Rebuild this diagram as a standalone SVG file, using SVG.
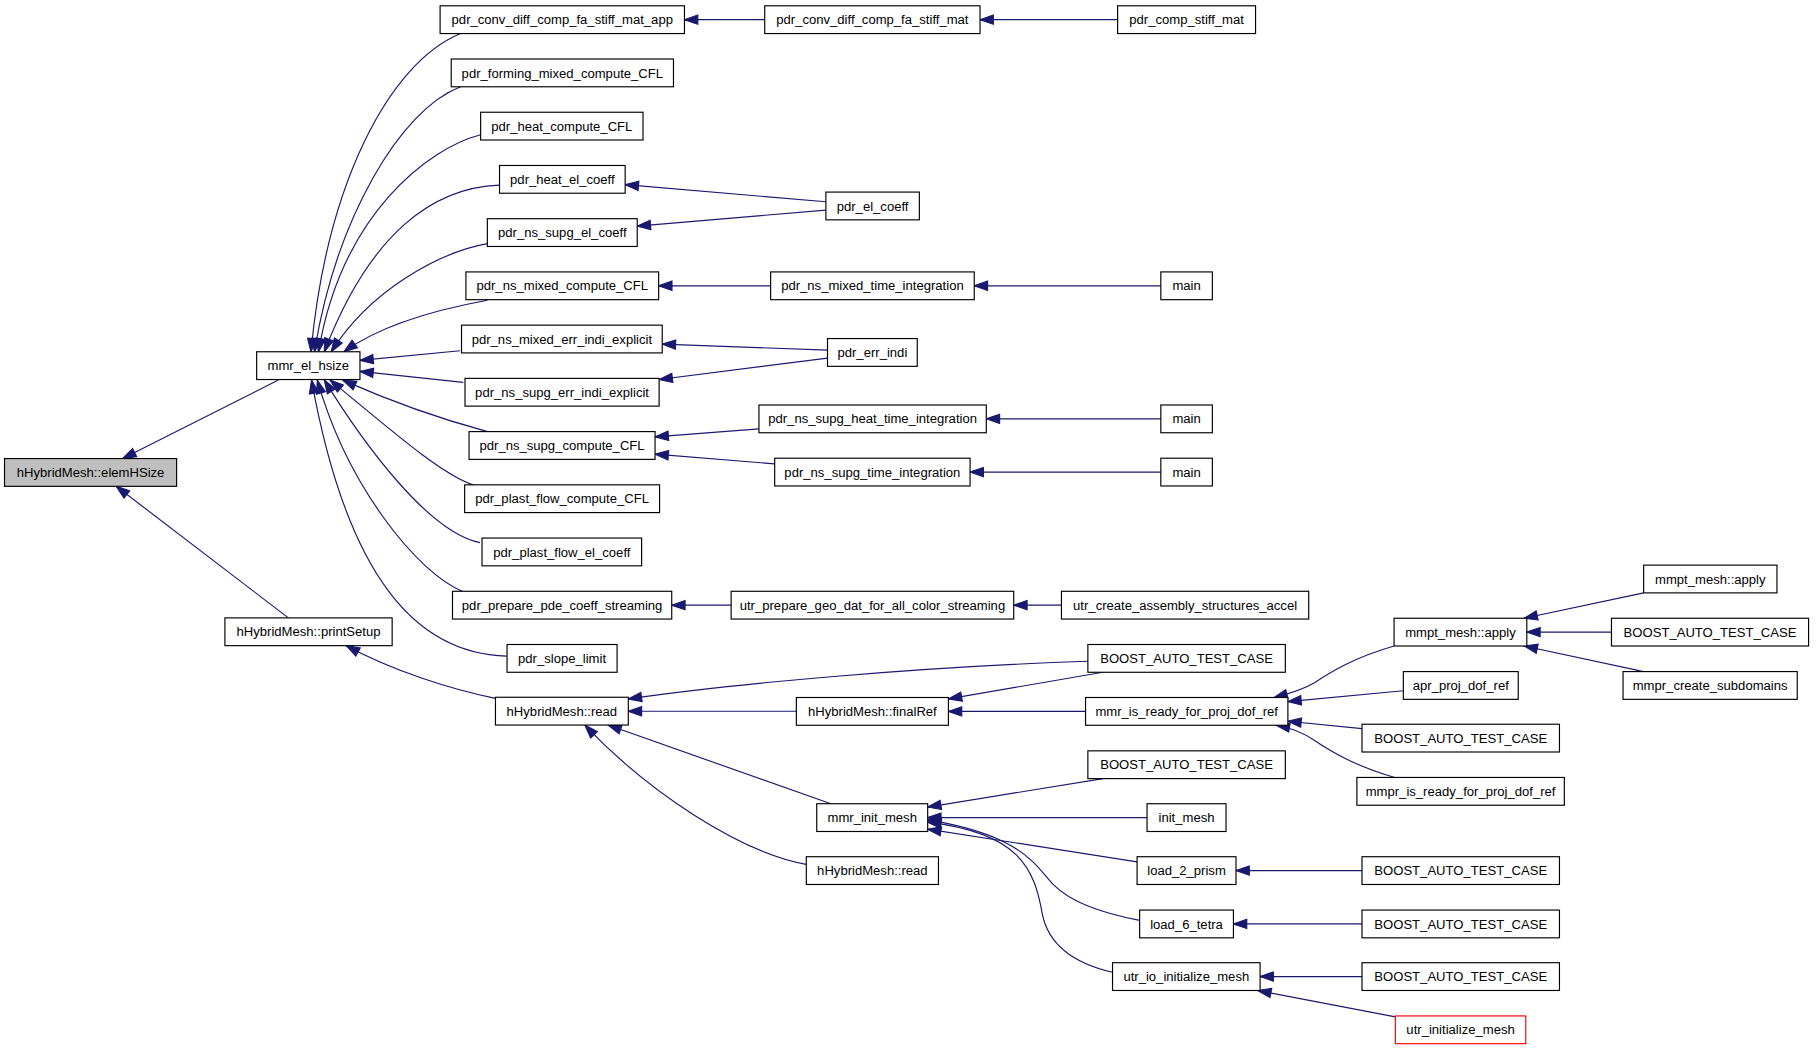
<svg xmlns="http://www.w3.org/2000/svg" width="1816" height="1053" viewBox="0 0 1816 1053">
<style>
.n rect{fill:#fff;stroke:#000;stroke-width:1}
.n text{font-family:"Liberation Sans",Arial,Helvetica,sans-serif;font-size:11.3px;text-anchor:middle;fill:#000}
#n0 rect{fill:#bfbfbf}
#n46 rect{stroke:#ff0000}
#edges path{fill:none;stroke:#191970;stroke-width:1;marker-end:url(#ah)}
</style>
<defs>
<marker id="ah" viewBox="0 0 11.5 8" markerWidth="11.5" markerHeight="8" refX="11.5" refY="4" orient="auto" markerUnits="userSpaceOnUse" overflow="visible"><path d="M0,0 L11.5,4 L0,8 z" fill="#191970" stroke="#191970" stroke-width="1"/></marker>
</defs>
<rect width="1816" height="1053" fill="#fff"/>
<g transform="scale(1.15816,1.1571)">
<g id="edges">
<path d="M240.3,328.5 L106,396.3"/>
<path d="M249,534 L100.4,420.3"/>
<path d="M397.7,29 C335,55 282,160 268.5,304"/>
<path d="M397.7,75 C345,95 290,190 271.5,304"/>
<path d="M415,116.4 C370,128 295,185 275,304"/>
<path d="M431.3,160 C375,162 320,200 280,304"/>
<path d="M420.8,210.6 C380,218 320,250 286,304"/>
<path d="M420.8,259.5 C380,267 330,280 297,304"/>
<path d="M397.2,303.1 L310.8,311.5"/>
<path d="M400,330.5 L310.8,321"/>
<path d="M421,373 C380,362 340,348 296,328.5"/>
<path d="M408.7,419 C380,410 330,365 285,328.5"/>
<path d="M414.5,469 C370,460 315,385 280,328.5"/>
<path d="M400,511.4 C360,495 300,420 274,328.5"/>
<path d="M437.5,567 C360,565 300,500 269,328.5"/>
<path d="M427.8,603.5 C390,596 340,580 299,558"/>
<path d="M660.3,17 L591,17"/>
<path d="M965,17 L846.2,17"/>
<path d="M713.1,174.4 L539.8,159.6"/>
<path d="M713.1,181.6 L550.2,195.4"/>
<path d="M665.4,247 L568.7,247"/>
<path d="M1002.3,247 L841.2,247"/>
<path d="M714.5,302.6 L571.8,297.4"/>
<path d="M714.5,309.5 L569.1,328"/>
<path d="M655.3,370.7 L565.6,377.5"/>
<path d="M668.9,400.9 L565.6,392.5"/>
<path d="M1002.3,362 L851.6,362"/>
<path d="M1002.3,408 L837.6,408"/>
<path d="M631.3,523 L580,523"/>
<path d="M916.5,523 L875.3,523"/>
<path d="M939.3,571.5 C800,576 640,590 542.5,604"/>
<path d="M687.6,614.7 L542.5,614.7"/>
<path d="M717.4,694.6 L525,626.6"/>
<path d="M696.2,747 C640,737 560,685 505,626.6"/>
<path d="M952.4,581 L818.9,604"/>
<path d="M937.3,614.8 L818.9,614.8"/>
<path d="M1203.7,558.3 C1170,568 1150,580 1135,590 C1125,596 1115,599 1100,602.8"/>
<path d="M1211.7,597 L1112,606.3"/>
<path d="M1176,629.7 L1112,623.3"/>
<path d="M1204.3,671.9 C1170,662 1150,650 1135,640 C1125,633 1115,629 1102,626.8"/>
<path d="M1419.2,512.4 L1316,534.3"/>
<path d="M1391.4,546.3 L1318.3,546.3"/>
<path d="M1419.2,580.4 L1316,558.3"/>
<path d="M952.4,672.9 L801,697.5"/>
<path d="M990.4,706.6 L801,706.6"/>
<path d="M981.8,744.8 L801,716.6"/>
<path d="M984,795.4 C950,789 925,780 910,765 C895,750 885,722 801,708.5"/>
<path d="M960.6,840.3 C925,832 905,815 900,790 C893,750 880,720 801,710.5"/>
<path d="M1176,752.4 L1067.2,752.4"/>
<path d="M1176,798.5 L1065,798.5"/>
<path d="M1176,844 L1088,844"/>
<path d="M1204.8,878.8 L1086,856"/>
</g>
<g id="n0" class="n"><rect x="3.9" y="396.3" width="148.6" height="24"/><text x="78.2" y="412.3">hHybridMesh::elemHSize</text></g>
<g id="n1" class="n"><rect x="221.6" y="304" width="89.2" height="24"/><text x="266.2" y="320">mmr_el_hsize</text></g>
<g id="n2" class="n"><rect x="194.2" y="534" width="144.4" height="24"/><text x="266.4" y="550">hHybridMesh::printSetup</text></g>
<g id="n3" class="n"><rect x="380" y="5" width="211" height="24"/><text x="485.5" y="21">pdr_conv_diff_comp_fa_stiff_mat_app</text></g>
<g id="n4" class="n"><rect x="389.6" y="51" width="191.9" height="24"/><text x="485.55" y="67">pdr_forming_mixed_compute_CFL</text></g>
<g id="n5" class="n"><rect x="415" y="97" width="140.2" height="24"/><text x="485.1" y="113">pdr_heat_compute_CFL</text></g>
<g id="n6" class="n"><rect x="431.3" y="143" width="108.5" height="24"/><text x="485.55" y="159">pdr_heat_el_coeff</text></g>
<g id="n7" class="n"><rect x="420.8" y="189" width="129.4" height="24"/><text x="485.5" y="205">pdr_ns_supg_el_coeff</text></g>
<g id="n8" class="n"><rect x="402.3" y="235" width="166.4" height="24"/><text x="485.5" y="251">pdr_ns_mixed_compute_CFL</text></g>
<g id="n9" class="n"><rect x="398.5" y="281" width="173.3" height="24"/><text x="485.15" y="297">pdr_ns_mixed_err_indi_explicit</text></g>
<g id="n10" class="n"><rect x="401.5" y="327" width="167.6" height="24"/><text x="485.3" y="343">pdr_ns_supg_err_indi_explicit</text></g>
<g id="n11" class="n"><rect x="405" y="373" width="160.6" height="24"/><text x="485.3" y="389">pdr_ns_supg_compute_CFL</text></g>
<g id="n12" class="n"><rect x="401.2" y="419" width="168.3" height="24"/><text x="485.35" y="435">pdr_plast_flow_compute_CFL</text></g>
<g id="n13" class="n"><rect x="416.2" y="465" width="137.8" height="24"/><text x="485.1" y="481">pdr_plast_flow_el_coeff</text></g>
<g id="n14" class="n"><rect x="390.7" y="511" width="189.3" height="24"/><text x="485.35" y="527">pdr_prepare_pde_coeff_streaming</text></g>
<g id="n15" class="n"><rect x="437.8" y="557" width="95" height="24"/><text x="485.3" y="573">pdr_slope_limit</text></g>
<g id="n16" class="n"><rect x="427.8" y="602.6" width="114.7" height="24"/><text x="485.15" y="618.6">hHybridMesh::read</text></g>
<g id="n17" class="n"><rect x="660.3" y="5" width="185.9" height="24"/><text x="753.25" y="21">pdr_conv_diff_comp_fa_stiff_mat</text></g>
<g id="n18" class="n"><rect x="713.1" y="166" width="80.7" height="24"/><text x="753.45" y="182">pdr_el_coeff</text></g>
<g id="n19" class="n"><rect x="665.4" y="235" width="175.8" height="24"/><text x="753.3" y="251">pdr_ns_mixed_time_integration</text></g>
<g id="n20" class="n"><rect x="714.5" y="292.6" width="77.5" height="24"/><text x="753.25" y="308.6">pdr_err_indi</text></g>
<g id="n21" class="n"><rect x="655.3" y="350" width="196.3" height="24"/><text x="753.45" y="366">pdr_ns_supg_heat_time_integration</text></g>
<g id="n22" class="n"><rect x="668.9" y="396" width="168.7" height="24"/><text x="753.25" y="412">pdr_ns_supg_time_integration</text></g>
<g id="n23" class="n"><rect x="631.3" y="511" width="244" height="24"/><text x="753.3" y="527">utr_prepare_geo_dat_for_all_color_streaming</text></g>
<g id="n24" class="n"><rect x="687.6" y="602.8" width="131.3" height="24"/><text x="753.25" y="618.8">hHybridMesh::finalRef</text></g>
<g id="n25" class="n"><rect x="705.2" y="694.6" width="95.8" height="24"/><text x="753.1" y="710.6">mmr_init_mesh</text></g>
<g id="n26" class="n"><rect x="696.2" y="740.4" width="114.1" height="24"/><text x="753.25" y="756.4">hHybridMesh::read</text></g>
<g id="n27" class="n"><rect x="965" y="5" width="119.1" height="24"/><text x="1024.55" y="21">pdr_comp_stiff_mat</text></g>
<g id="n28" class="n"><rect x="1002.3" y="235" width="44.5" height="24"/><text x="1024.55" y="251">main</text></g>
<g id="n29" class="n"><rect x="1002.3" y="350" width="44.5" height="24"/><text x="1024.55" y="366">main</text></g>
<g id="n30" class="n"><rect x="1002.3" y="396" width="44.5" height="24"/><text x="1024.55" y="412">main</text></g>
<g id="n31" class="n"><rect x="916.5" y="511" width="213.5" height="24"/><text x="1023.25" y="527">utr_create_assembly_structures_accel</text></g>
<g id="n32" class="n"><rect x="939.3" y="557" width="170.5" height="24"/><text x="1024.55" y="573">BOOST_AUTO_TEST_CASE</text></g>
<g id="n33" class="n"><rect x="937.3" y="602.8" width="174.7" height="24"/><text x="1024.65" y="618.8">mmr_is_ready_for_proj_dof_ref</text></g>
<g id="n34" class="n"><rect x="939.3" y="648.9" width="170.5" height="24"/><text x="1024.55" y="664.9">BOOST_AUTO_TEST_CASE</text></g>
<g id="n35" class="n"><rect x="990.4" y="694.6" width="68.2" height="24"/><text x="1024.5" y="710.6">init_mesh</text></g>
<g id="n36" class="n"><rect x="981.8" y="740.4" width="85.4" height="24"/><text x="1024.5" y="756.4">load_2_prism</text></g>
<g id="n37" class="n"><rect x="984" y="786.5" width="81" height="24"/><text x="1024.5" y="802.5">load_6_tetra</text></g>
<g id="n38" class="n"><rect x="960.6" y="832" width="127.4" height="24"/><text x="1024.3" y="848">utr_io_initialize_mesh</text></g>
<g id="n39" class="n"><rect x="1203.7" y="534.3" width="114.6" height="24"/><text x="1261" y="550.3">mmpt_mesh::apply</text></g>
<g id="n40" class="n"><rect x="1211.7" y="580.4" width="99.2" height="24"/><text x="1261.3" y="596.4">apr_proj_dof_ref</text></g>
<g id="n41" class="n"><rect x="1176" y="625.9" width="170.5" height="24"/><text x="1261.25" y="641.9">BOOST_AUTO_TEST_CASE</text></g>
<g id="n42" class="n"><rect x="1171.6" y="671.9" width="179.1" height="24"/><text x="1261.15" y="687.9">mmpr_is_ready_for_proj_dof_ref</text></g>
<g id="n43" class="n"><rect x="1176" y="740.4" width="170.5" height="24"/><text x="1261.25" y="756.4">BOOST_AUTO_TEST_CASE</text></g>
<g id="n44" class="n"><rect x="1176" y="786.5" width="170.5" height="24"/><text x="1261.25" y="802.5">BOOST_AUTO_TEST_CASE</text></g>
<g id="n45" class="n"><rect x="1176" y="832" width="170.5" height="24"/><text x="1261.25" y="848">BOOST_AUTO_TEST_CASE</text></g>
<g id="n46" class="n"><rect x="1204.8" y="878" width="112.6" height="24"/><text x="1261.1" y="894">utr_initialize_mesh</text></g>
<g id="n47" class="n"><rect x="1419.2" y="488.4" width="115.1" height="24"/><text x="1476.75" y="504.4">mmpt_mesh::apply</text></g>
<g id="n48" class="n"><rect x="1391.4" y="534.3" width="170.2" height="24"/><text x="1476.5" y="550.3">BOOST_AUTO_TEST_CASE</text></g>
<g id="n49" class="n"><rect x="1401.4" y="580.4" width="150.4" height="24"/><text x="1476.6" y="596.4">mmpr_create_subdomains</text></g>
</g>
</svg>
